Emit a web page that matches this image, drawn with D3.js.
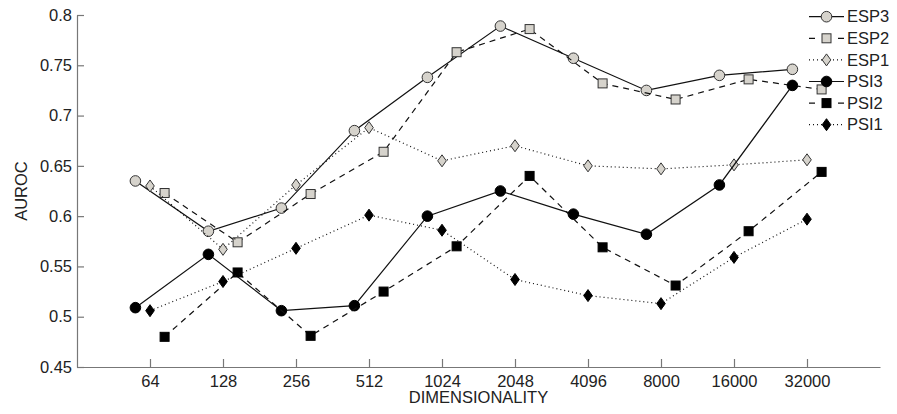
<!DOCTYPE html>
<html>
<head>
<meta charset="utf-8">
<script src="https://cdn.jsdelivr.net/npm/d3@7"></script>
<style>
  body { margin: 0; background: #fff; }
  text { font-family: "Liberation Sans", Arial, sans-serif; fill: #222; }
</style>
</head>
<body>
<svg id="chart" width="897" height="414"></svg>
<script>
// tick labels along the x axis
const dims = ["64", "128", "256", "512", "1024", "2048", "4096", "8000", "16000", "32000"];
const yTicks = [0.45, 0.5, 0.55, 0.6, 0.65, 0.7, 0.75, 0.8];

// AUROC values
const esp3 = [0.635, 0.585, 0.608, 0.685, 0.738, 0.789, 0.757, 0.725, 0.740, 0.746];
const esp2 = [0.623, 0.574, 0.622, 0.664, 0.763, 0.786, 0.732, 0.716, 0.736, 0.726];
const esp1 = [0.630, 0.567, 0.631, 0.688, 0.655, 0.670, 0.650, 0.647, 0.651, 0.656];
const psi3 = [0.509, 0.562, 0.506, 0.511, 0.600, 0.625, 0.602, 0.582, 0.631, 0.730];
const psi2 = [0.480, 0.544, 0.481, 0.525, 0.570, 0.640, 0.569, 0.531, 0.585, 0.644];
const psi1 = [0.506, 0.535, 0.568, 0.601, 0.586, 0.537, 0.521, 0.513, 0.559, 0.597];

const seriesNames = ["ESP3", "ESP2", "ESP1", "PSI3", "PSI2", "PSI1"];

var gray = "#d6d3cc";
var series = [
    { name: "ESP3", values: esp3, shape: "circle",  fill: gray,   dash: null,  legendDash: null,   offset: -0.2 },
    { name: "ESP2", values: esp2, shape: "square",  fill: gray,   dash: "6,5", legendDash: "6,23", offset: 0.2 },
    { name: "ESP1", values: esp1, shape: "diamond", fill: gray,   dash: "1,3", legendDash: "1,3",  offset: 0 },
    { name: "PSI3", values: psi3, shape: "circle",  fill: "#000", dash: null,  legendDash: null,   offset: -0.2 },
    { name: "PSI2", values: psi2, shape: "square",  fill: "#000", dash: "6,5", legendDash: "6,23", offset: 0.2 },
    { name: "PSI1", values: psi1, shape: "diamond", fill: "#000", dash: "1,3", legendDash: "1,3",  offset: 0 }
];

var svg = d3.select("#chart");

// index scale: one slot per dimensionality, a free slot either end
var x = d3.scaleLinear().domain([-1, dims.length]).range([77, 880]);
var y = d3.scaleLinear().domain([0.45, 0.8]).range([367, 15]);

// axes
var xAxis = d3.axisBottom(x)
    .tickValues(d3.range(dims.length))
    .tickFormat(i => dims[i])
    .tickSizeInner(-8)
    .tickSizeOuter(0)
    .tickPadding(8);

var yAxis = d3.axisLeft(y)
    .tickValues(yTicks)
    .tickFormat(d => d3.format("")(+d.toFixed(2)))
    .tickSizeInner(-7)
    .tickSizeOuter(0)
    .tickPadding(5);

var gx = svg.append("g").attr("transform", "translate(0,367)").call(xAxis);
var gy = svg.append("g").attr("transform", "translate(77,0)").call(yAxis);

[gx, gy].forEach(g => {
    g.select(".domain").attr("stroke", "#777").attr("stroke-width", 1.2);
    g.selectAll(".tick line").attr("stroke", "#777").attr("stroke-width", 1.2);
    g.selectAll(".tick text").attr("font-size", 16.5).attr("font-family", null).attr("fill", "#222");
});

svg.append("text")
    .attr("x", (77 + 880) / 2)
    .attr("y", 403)
    .attr("text-anchor", "middle")
    .attr("font-size", 16.5)
    .text("DIMENSIONALITY");

svg.append("text")
    .attr("transform", "translate(27," + (15 + 367) / 2 + ") rotate(-90)")
    .attr("text-anchor", "middle")
    .attr("font-size", 16.5)
    .text("AUROC");

// marker drawing
function drawMarker(g, shape, fill) {
    if (shape === "circle") {
        g.append("circle").attr("r", 5.3);
    } else if (shape === "square") {
        g.append("rect").attr("x", -4.5).attr("y", -4.5).attr("width", 9).attr("height", 9);
    } else {
        g.append("path").attr("d", "M0,-6L4.3,0L0,6L-4.3,0Z");
    }
    g.selectAll("*")
        .attr("fill", fill)
        .attr("stroke", fill === "#000" ? "#000" : "#333")
        .attr("stroke-width", 1);
}

var line = d3.line();

series.forEach(s => {
    var pts = s.values.map((v, i) => [x(i + s.offset), y(v)]);

    svg.append("path")
        .attr("d", line(pts))
        .attr("fill", "none")
        .attr("stroke", "#111")
        .attr("stroke-width", 1.2)
        .attr("stroke-dasharray", s.dash);

    pts.forEach(p => {
        var g = svg.append("g").attr("transform", "translate(" + p[0] + "," + p[1] + ")");
        drawMarker(g, s.shape, s.fill);
    });
});

// legend
var legend = svg.append("g");
series.forEach((s, i) => {
    var ly = 16.7 + i * 21.6;
    legend.append("line")
        .attr("x1", 809).attr("x2", 844)
        .attr("y1", ly).attr("y2", ly)
        .attr("stroke", "#111")
        .attr("stroke-width", 1.2)
        .attr("stroke-dasharray", s.legendDash);
    var g = legend.append("g").attr("transform", "translate(826.5," + ly + ")");
    drawMarker(g, s.shape, s.fill);
    legend.append("text")
        .attr("x", 847)
        .attr("y", ly)
        .attr("dy", "0.35em")
        .attr("font-size", 16.5)
        .text(seriesNames[i]);
});
</script>
</body>
</html>
